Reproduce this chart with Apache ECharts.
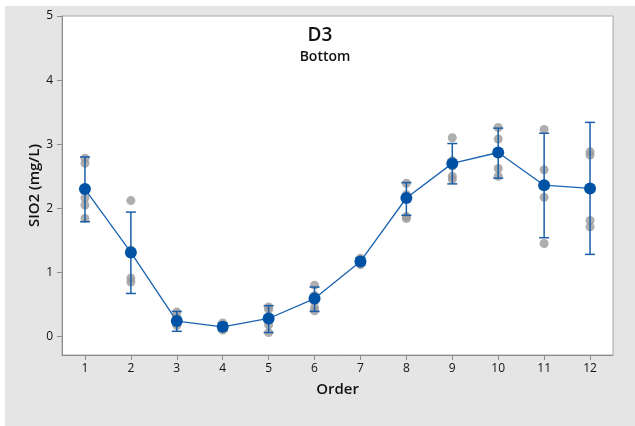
<!DOCTYPE html>
<html><head><meta charset="utf-8">
<script src="https://cdn.jsdelivr.net/npm/echarts@6/dist/echarts.min.js"></script>
<style>
html,body{margin:0;padding:0;background:#fff;width:635px;height:426px;overflow:hidden}
#c{position:absolute;left:5px;top:6px;width:630px;height:420px;background:#e5e5e5}
</style></head>
<body><div id="c"></div>
<script>
const orders = [1,2,3,4,5,6,7,8,9,10,11,12];
const means   = [2.30,1.31,0.24,0.15,0.28,0.59,1.17,2.16,2.70,2.87,2.36,2.31];
const errLow  = [1.79,0.67,0.08,0.09,0.06,0.39,1.11,1.89,2.38,2.47,1.54,1.28];
const errHigh = [2.80,1.94,0.39,0.21,0.48,0.77,1.23,2.40,3.01,3.25,3.17,3.34];
const obs1  = [2.78,2.70,2.16,2.05,1.84];
const obs2  = [2.12,1.35,0.91,0.85];
const obs3  = [0.38,0.30,0.20,0.17];
const obs4  = [0.21,0.17,0.12,0.10];
const obs5  = [0.46,0.42,0.25,0.18,0.06];
const obs6  = [0.80,0.64,0.55,0.45,0.40];
const obs7  = [1.22,1.18,1.14,1.12];
const obs8  = [2.39,2.21,2.15,1.87,1.84];
const obs9  = [3.10,2.74,2.66,2.50,2.45];
const obs10 = [3.26,3.08,2.85,2.62,2.50];
const obs11 = [3.23,2.60,2.17,1.45];
const obs12 = [2.88,2.83,1.81,1.71];
const observations = [obs1,obs2,obs3,obs4,obs5,obs6,obs7,obs8,obs9,obs10,obs11,obs12];
const yTicks = [0,1,2,3,4,5];
const titleText = 'D3';
const subtitleText = 'Bottom';

const obsData = [];
observations.forEach((arr,i)=>arr.forEach(v=>obsData.push([orders[i],v])));
const errData = orders.map((o,i)=>[o,errLow[i],errHigh[i]]);
const meanData = orders.map((o,i)=>[o,means[i]]);

const FONT = '"Open Sans", "Noto Sans", sans-serif';
const chart = echarts.init(document.getElementById('c'), null, {renderer:'canvas'});
chart.setOption({
  animation:false,
  backgroundColor:'#e5e5e5',
  grid:{left:57,top:10,width:551,height:339,show:true,backgroundColor:'#ffffff',borderColor:'#a8a8a8',borderWidth:1},
  graphic:[
    {type:'text',style:{text:titleText,font:'600 19px '+FONT,fill:'#111',textAlign:'center',textVerticalAlign:'middle'},x:315,y:30},
    {type:'text',style:{text:subtitleText,font:'600 14px '+FONT,fill:'#111',textAlign:'center',textVerticalAlign:'middle'},x:320,y:51}
  ],
  xAxis:{
    type:'value',min:0.5,max:12.5,
    name:'Order',nameLocation:'middle',nameGap:27,
    nameTextStyle:{fontFamily:FONT,fontWeight:600,fontSize:15,color:'#111'},
    axisLine:{show:true,onZero:false,lineStyle:{color:'#8c8c8c'}},
    axisTick:{show:true,inside:false,length:5,lineStyle:{color:'#8c8c8c'},customValues:orders},
    axisLabel:{fontFamily:FONT,fontSize:12,color:'#111',margin:8,customValues:orders},
    splitLine:{show:false}
  },
  yAxis:{
    type:'value',min:-0.29,max:5,
    name:'SIO2 (mg/L)',nameLocation:'middle',nameGap:20,nameMoveOverlap:false,
    nameTextStyle:{fontFamily:FONT,fontWeight:600,fontSize:15,color:'#111'},
    axisLine:{show:true,onZero:false,lineStyle:{color:'#8c8c8c'}},
    axisTick:{show:true,inside:false,length:5,lineStyle:{color:'#8c8c8c'},customValues:yTicks},
    axisLabel:{fontFamily:FONT,fontSize:12,color:'#111',margin:9,customValues:yTicks},
    splitLine:{show:false}
  },
  series:[
    {type:'scatter',data:obsData,symbol:'circle',symbolSize:9,itemStyle:{color:'#9a9a9a'},z:2},
    {type:'custom',data:errData,z:3,
     renderItem:function(params,api){
       const x=api.value(0);
       const lo=api.coord([x,api.value(1)]);
       const hi=api.coord([x,api.value(2)]);
       const hw=5;
       const st={stroke:'#1b5ea8',lineWidth:1.5};
       return {type:'group',children:[
         {type:'line',shape:{x1:lo[0],y1:lo[1],x2:hi[0],y2:hi[1]},style:st},
         {type:'line',shape:{x1:lo[0]-hw,y1:lo[1],x2:lo[0]+hw,y2:lo[1]},style:st},
         {type:'line',shape:{x1:hi[0]-hw,y1:hi[1],x2:hi[0]+hw,y2:hi[1]},style:st}
       ]};
     }},
    {type:'line',data:meanData,symbol:'circle',symbolSize:12,showAllSymbol:true,z:4,
     lineStyle:{color:'#1a62b0',width:1.3},itemStyle:{color:'#0052a4',borderWidth:0}}
  ]
});
</script></body></html>
